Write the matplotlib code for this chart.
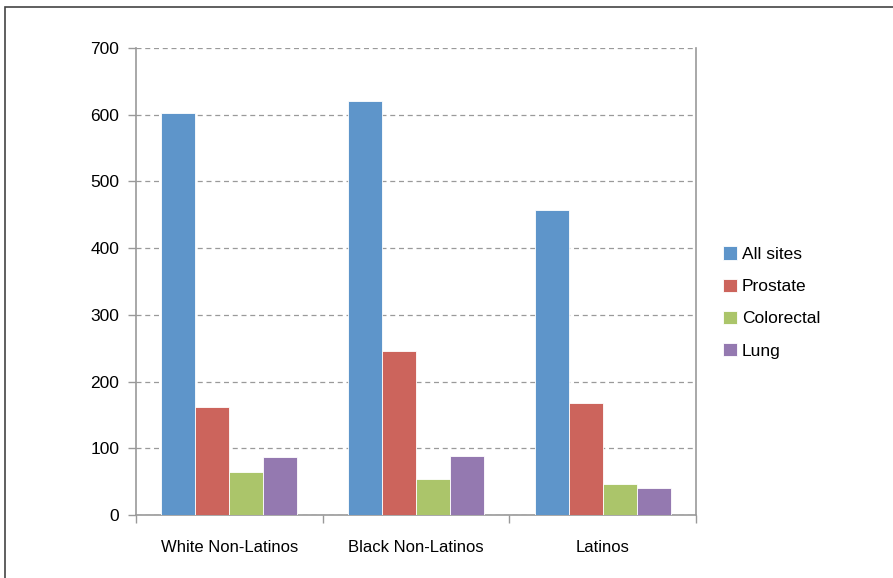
import numpy as np
import matplotlib.pyplot as plt
from matplotlib.patches import Rectangle

groups = ['White Non-Latinos', 'Black Non-Latinos', 'Latinos']
series = ['All sites', 'Prostate', 'Colorectal', 'Lung']
all_sites = [602, 621, 457]
prostate = [162, 246, 168]
colorectal = [65, 54, 46]
lung = [87, 89, 40]
colors = ['#5E95CA', '#CC645C', '#ABC56A', '#9479B0']

plt.rcParams['font.family'] = ['Liberation Sans Narrow', 'Liberation Sans', 'DejaVu Sans']

fig = plt.figure(figsize=(8.93, 5.78), dpi=100)
ax = fig.add_axes([136/893, 1-515/578, 560/893, 467/578])

x = np.arange(len(groups))
w = 0.182
for i, (vals, name) in enumerate(zip([all_sites, prostate, colorectal, lung], series)):
    ax.bar(x + (i - 1.5)*w, vals, w, color=colors[i], edgecolor='white', linewidth=0.6, label=name, zorder=3)

ax.set_xlim(-0.5, 2.5)
ax.set_ylim(0, 700)
ax.set_yticks(range(0, 701, 100))
ax.yaxis.grid(True, linestyle=(0, (4, 3)), color='#9a9a9a', linewidth=0.9, zorder=0)
ax.set_xticks([-0.5, 0.5, 1.5, 2.5])
ax.set_xticklabels([])
ax.set_xticks(x, minor=True)
ax.set_xticklabels(groups, minor=True, fontsize=12)
ax.tick_params(axis='x', which='minor', length=0, pad=18)
ax.tick_params(axis='x', which='major', length=6, color='#999999', width=1)
ax.tick_params(axis='y', length=6, color='#999999', width=1, labelsize=12.5, pad=6)
for s in ['left', 'bottom', 'right']:
    ax.spines[s].set_color('#999999')
    ax.spines[s].set_linewidth(1.2)
ax.spines['top'].set_visible(False)

ax.legend(loc='center left', bbox_to_anchor=(1.02, 0.455), frameon=False, fontsize=12.5,
          handlelength=0.8, handleheight=0.8, handletextpad=0.3, labelspacing=0.95)

fig.patches.append(Rectangle((5/893, -0.1), 2, 1-7/578+0.1, transform=fig.transFigure,
                             fill=False, edgecolor='#444444', linewidth=1.2))

fig.savefig('out.png', dpi=100)
